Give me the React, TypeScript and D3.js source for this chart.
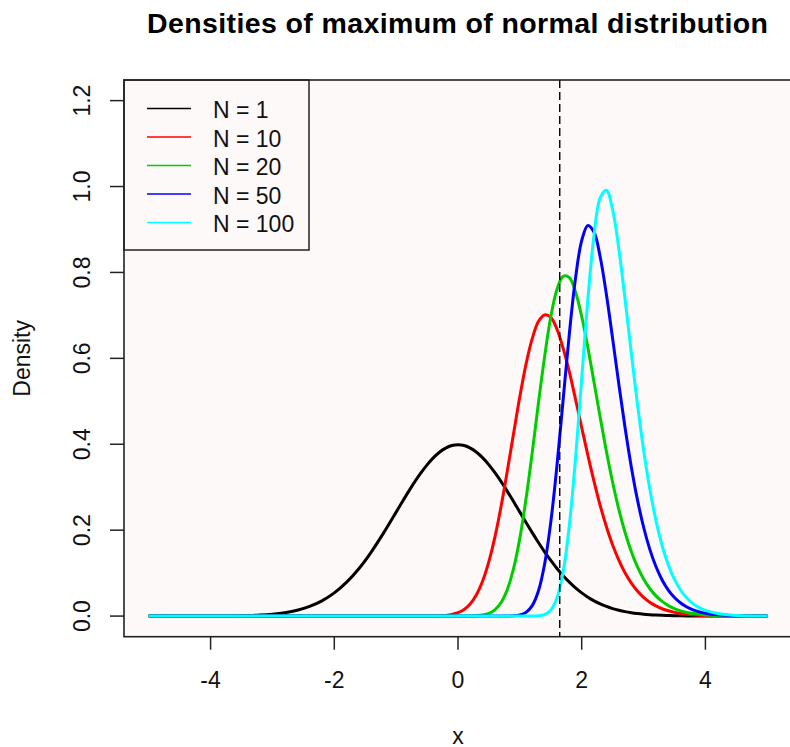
import React from "react";
import * as d3 from "d3";

// Shared x grid
const xGrid = [
  -5, -4.8, -4.6, -4.4, -4.2, -4, -3.8, -3.6, -3.4, -3.2,
  -3, -2.8, -2.6, -2.4, -2.2, -2, -1.8, -1.6, -1.4, -1.2,
  -1, -0.9, -0.8, -0.7, -0.6, -0.5, -0.4, -0.3, -0.2, -0.1,
  0, 0.1, 0.2, 0.3, 0.4, 0.5, 0.6, 0.7, 0.8, 0.9,
  1, 1.1, 1.2, 1.3, 1.4, 1.5, 1.6, 1.7, 1.8, 1.9,
  2, 2.1, 2.2, 2.3, 2.4, 2.5, 2.6, 2.7, 2.8, 2.9,
  3, 3.1, 3.2, 3.3, 3.4, 3.5, 3.6, 3.7, 3.8, 3.9,
  4, 4.2, 4.4, 4.6, 4.8, 5,
];

const densN1 = [
  0.0000015, 0.000004, 0.00001, 0.000025, 0.000059, 0.000134, 0.000292, 0.000612, 0.00123, 0.00238,
  0.00443, 0.00792, 0.0136, 0.0224, 0.0355, 0.054, 0.079, 0.1109, 0.1497, 0.1942,
  0.242, 0.2661, 0.2897, 0.3123, 0.3332, 0.3521, 0.3683, 0.3814, 0.391, 0.397,
  0.3989, 0.397, 0.391, 0.3814, 0.3683, 0.3521, 0.3332, 0.3123, 0.2897, 0.2661,
  0.242, 0.2179, 0.1942, 0.1714, 0.1497, 0.1295, 0.1109, 0.094, 0.079, 0.0656,
  0.054, 0.044, 0.0355, 0.0283, 0.0224, 0.0175, 0.0136, 0.0104, 0.00792, 0.00595,
  0.00443, 0.00327, 0.00238, 0.00172, 0.00123, 0.000873, 0.000612, 0.000425, 0.000292, 0.000199,
  0.000134, 0.000059, 0.000025, 0.00001, 0.000004, 0.0000015,
];

const densN10 = [
  0, 0, 0, 0, 0, 0, 0, 0, 0, 0,
  0, 0, 0, 0, 0, 0, 0, 0, 0, 0,
  0, 0, 0, 0.00001, 0.00003, 0.00009, 0.00025, 0.00066, 0.0016, 0.0037,
  0.0078, 0.0154, 0.0287, 0.0501, 0.0822, 0.1273, 0.186, 0.2579, 0.3399, 0.4262,
  0.511, 0.5867, 0.646, 0.6857, 0.701, 0.6953, 0.6678, 0.6234, 0.5685, 0.5048,
  0.439, 0.3741, 0.313, 0.2568, 0.208, 0.1655, 0.1304, 0.1008, 0.0774, 0.0585,
  0.0438, 0.0324, 0.0237, 0.0171, 0.0123, 0.0087, 0.0061, 0.0043, 0.0029, 0.002,
  0.0013, 0.0006, 0.00025, 0.0001, 0.00004, 0.00001,
];

const densN20 = [
  0, 0, 0, 0, 0, 0, 0, 0, 0, 0,
  0, 0, 0, 0, 0, 0, 0, 0, 0, 0,
  0, 0, 0, 0, 0, 0, 0, 0, 0, 0,
  0, 0.00007, 0.00025, 0.0008, 0.0024, 0.0064, 0.0151, 0.0323, 0.0628, 0.1114,
  0.1815, 0.273, 0.3803, 0.4955, 0.6035, 0.6968, 0.7603, 0.791, 0.7878, 0.7543,
  0.6974, 0.6249, 0.5437, 0.4617, 0.383, 0.3115, 0.2485, 0.1951, 0.1509, 0.1149,
  0.0864, 0.0642, 0.047, 0.0341, 0.0244, 0.0174, 0.0122, 0.0085, 0.0058, 0.004,
  0.0027, 0.0012, 0.0005, 0.0002, 0.00008, 0.00003,
];

const densN50 = [
  0, 0, 0, 0, 0, 0, 0, 0, 0, 0,
  0, 0, 0, 0, 0, 0, 0, 0, 0, 0,
  0, 0, 0, 0, 0, 0, 0, 0, 0, 0,
  0, 0, 0, 0, 0, 0, 0, 0, 0.0001, 0.0006,
  0.0025, 0.0086, 0.0243, 0.0584, 0.1208, 0.2186, 0.3505, 0.5037, 0.6571, 0.7867,
  0.8742, 0.9095, 0.8934, 0.8353, 0.748, 0.6459, 0.5402, 0.4395, 0.349, 0.2716,
  0.2074, 0.1558, 0.1153, 0.0841, 0.0606, 0.0432, 0.0304, 0.0211, 0.0146, 0.0099,
  0.0067, 0.0029, 0.0012, 0.0005, 0.0002, 0.00007,
];

const densN100 = [
  0, 0, 0, 0, 0, 0, 0, 0, 0, 0,
  0, 0, 0, 0, 0, 0, 0, 0, 0, 0,
  0, 0, 0, 0, 0, 0, 0, 0, 0, 0,
  0, 0, 0, 0, 0, 0, 0, 0, 0, 0,
  0, 0, 0.0001, 0.0007, 0.0036, 0.0138, 0.0419, 0.1031, 0.2109, 0.3666,
  0.5532, 0.7384, 0.8871, 0.9742, 0.9913, 0.946, 0.8553, 0.7389, 0.6144, 0.4948,
  0.3877, 0.2968, 0.2227, 0.1643, 0.1192, 0.0853, 0.0602, 0.0421, 0.029, 0.0198,
  0.0134, 0.0059, 0.0025, 0.001, 0.0004, 0.00015,
];

const seriesLabels = ["N = 1", "N = 10", "N = 20", "N = 50", "N = 100"];
const seriesColors = ["#000000", "#FF0000", "#00CD00", "#0000FF", "#00FFFF"];
const seriesValues = [densN1, densN10, densN20, densN50, densN100];

const xTicks = [-4, -2, 0, 2, 4];
const yTicks = [0, 0.2, 0.4, 0.6, 0.8, 1.0, 1.2];
const criticalX = [1.645];

const titleText = "Densities of maximum of normal distribution";
const xLabel = "x";
const yLabel = "Density";

const W = 790;
const H = 747;
const L = 124;
const R = 792;
const T = 80;
const B = 636.7;
const FONT = "'Liberation Sans', Arial, Helvetica, sans-serif";

export default function App() {
  const x = d3.scaleLinear().domain([-5.4, 5.4]).range([L, R]);
  const y = d3.scaleLinear().domain([-0.048, 1.248]).range([B, T]);
  const line = d3
    .line<number>()
    .x((_, i) => x(xGrid[i]))
    .y((d) => y(d))
    .curve(d3.curveCatmullRom.alpha(0.5));

  const legendRowY = [108.5, 137, 165.5, 194, 222.5];

  return (
    <svg
      width={W}
      height={H}
      style={{ position: "absolute", left: 0, top: 0, background: "#ffffff" }}
      fontFamily={FONT}
    >
      <rect x={0} y={0} width={W} height={H} fill="#ffffff" />
      <rect x={L} y={T} width={R - L} height={B - T} fill="#FDF9F8" />

      {seriesValues.map((vals, i) => (
        <path
          key={i}
          d={line(vals) || ""}
          fill="none"
          stroke={seriesColors[i]}
          strokeWidth={3}
          strokeLinejoin="round"
        />
      ))}

      {criticalX.map((c, i) => (
        <line
          key={i}
          x1={x(c)}
          x2={x(c)}
          y1={T}
          y2={B}
          stroke="#000"
          strokeWidth={1.4}
          strokeDasharray="8,4"
        />
      ))}

      {/* legend */}
      <rect x={L} y={T} width={309 - L} height={250 - T} fill="#FDF9F8" stroke="#222" strokeWidth={1.5} />
      {seriesLabels.map((lab, i) => (
        <g key={lab}>
          <line x1={147} x2={191} y1={legendRowY[i]} y2={legendRowY[i]} stroke={seriesColors[i]} strokeWidth={1.6} />
          <text x={213} y={legendRowY[i] + 9.5} fontSize={23} fill="#111">
            {lab}
          </text>
        </g>
      ))}

      {/* box */}
      <rect x={L} y={T} width={R - L} height={B - T} fill="none" stroke="#222" strokeWidth={1.6} />

      {/* x axis */}
      {xTicks.map((t) => (
        <g key={t}>
          <line x1={x(t)} x2={x(t)} y1={B} y2={B + 13} stroke="#222" strokeWidth={1.5} />
          <text x={x(t)} y={688} fontSize={23} textAnchor="middle" fill="#111">
            {t}
          </text>
        </g>
      ))}
      {/* y axis */}
      {yTicks.map((t) => (
        <g key={t}>
          <line x1={L - 14} x2={L} y1={y(t)} y2={y(t)} stroke="#222" strokeWidth={1.5} />
          <text
            transform={`translate(90,${y(t)}) rotate(-90)`}
            fontSize={23}
            textAnchor="middle"
            fill="#111"
          >
            {t.toFixed(1)}
          </text>
        </g>
      ))}

      <text
        x={457.5}
        y={32.5}
        fontSize={28.5}
        fontWeight="bold"
        textAnchor="middle"
        fill="#000"
        textLength={621}
        lengthAdjust="spacing"
      >
        {titleText}
      </text>
      <text x={(L + R) / 2} y={743.5} fontSize={23} textAnchor="middle" fill="#111">
        {xLabel}
      </text>
      <text transform={`translate(30,${(T + B) / 2}) rotate(-90)`} fontSize={23} textAnchor="middle" fill="#111">
        {yLabel}
      </text>
    </svg>
  );
}
